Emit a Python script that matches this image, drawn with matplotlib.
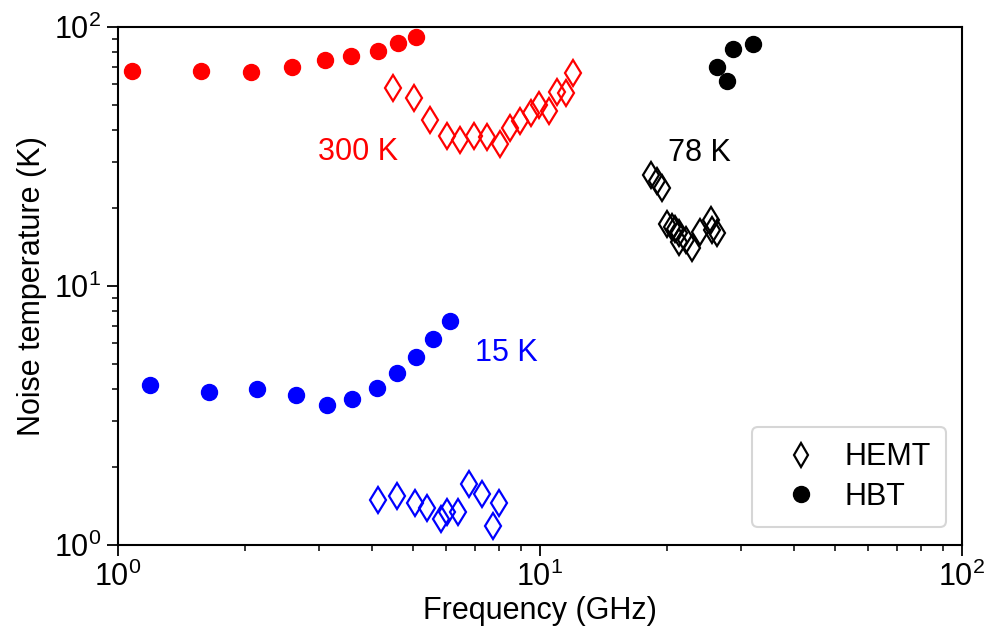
import matplotlib
matplotlib.use("Agg")
import matplotlib.pyplot as plt
from matplotlib.lines import Line2D

plt.rcParams['font.family'] = ['Liberation Sans', 'DejaVu Sans']

# 300 K
hbt_300_f = [1.08, 1.57, 2.07, 2.58, 3.10, 3.57, 4.14, 4.61, 5.09]
hbt_300_t = [67.6, 67.8, 66.8, 69.9, 74.6, 77.3, 80.8, 86.7, 91.5]
hemt_300_f = [4.48, 5.02, 5.49, 6.02, 6.47, 6.98, 7.49, 8.04, 8.49, 8.97, 9.52, 9.93, 10.49, 10.97, 11.5, 11.96]
hemt_300_t = [58.3, 53.3, 43.7, 37.8, 36.5, 38.0, 37.6, 35.2, 40.6, 43.4, 46.4, 49.9, 47.5, 56.0, 55.5, 66.3]

# 78 K
hbt_78_f = [26.2, 27.7, 28.7, 31.9]
hbt_78_t = [69.9, 61.7, 82.0, 85.8]
hemt_78_f = [18.3, 18.97, 19.5, 19.96, 20.5, 20.9, 21.3, 21.4, 22.2, 22.9, 23.9, 25.4, 25.5, 26.3]
hemt_78_t = [26.8, 25.5, 24.0, 17.3, 16.9, 16.6, 16.0, 14.8, 15.1, 14.0, 16.2, 18.0, 16.4, 16.0]

# 15 K
hbt_15_f = [1.19, 1.64, 2.13, 2.64, 3.12, 3.59, 4.11, 4.57, 5.07, 5.57, 6.12]
hbt_15_t = [4.14, 3.89, 3.99, 3.78, 3.46, 3.66, 4.03, 4.60, 5.31, 6.26, 7.35]
hemt_15_f = [4.12, 4.58, 5.06, 5.39, 5.82, 6.03, 6.40, 6.80, 7.27, 7.73, 8.0]
hemt_15_t = [1.49, 1.54, 1.45, 1.39, 1.26, 1.34, 1.34, 1.72, 1.57, 1.18, 1.45]

labels = ["300 K", "78 K", "15 K"]
label_pos = [(2.98, 32.9), (20.1, 32.6), (7.02, 5.51)]
colors = ["red", "black", "blue"]

FS = 22

fig = plt.figure(figsize=(9.87, 6.32), dpi=100)
ax = fig.add_axes([0.1196, 0.1377, 0.8551, 0.8196])
ax.set_xscale('log')
ax.set_yscale('log')
ax.set_xlim(1, 100)
ax.set_ylim(1, 100)

ms_c = 11.5
ms_d = 13
mew = 1.6
series = [
    (hbt_300_f, hbt_300_t, hemt_300_f, hemt_300_t, 'red'),
    (hbt_78_f, hbt_78_t, hemt_78_f, hemt_78_t, 'black'),
    (hbt_15_f, hbt_15_t, hemt_15_f, hemt_15_t, 'blue'),
]
for bf, bt, hf, ht, c in series:
    ax.plot(bf, bt, 'o', color=c, ms=ms_c, mec=c, lw=0)
    ax.plot(hf, ht, 'd', color=c, ms=ms_d, mfc='none', mec=c, mew=mew, lw=0)

for lab, (x, y), c in zip(labels, label_pos, colors):
    ax.text(x, y, lab, color=c, fontsize=FS, ha='left', va='center')

for s in ax.spines.values():
    s.set_linewidth(1.5)
ax.tick_params(which='major', direction='out', length=8, width=1.3, labelsize=FS,
               top=False, right=False, pad=4)
ax.tick_params(which='minor', direction='out', length=4.5, width=1.1,
               top=False, right=False)
ax.set_xlabel('Frequency (GHz)', fontsize=FS, labelpad=2)
ax.set_ylabel('Noise temperature (K)', fontsize=FS, labelpad=5)

handles = [
    Line2D([], [], marker='d', ls='none', color='black', mfc='none', mew=mew, ms=12),
    Line2D([], [], marker='o', ls='none', color='black', ms=ms_c),
]
leg = ax.legend(handles, ['HEMT', 'HBT'], loc='lower right', fontsize=FS,
                frameon=True, fancybox=True, borderpad=0.5, handletextpad=0.32,
                labelspacing=0.3, handlelength=2.2, borderaxespad=0,
                bbox_to_anchor=(0.981, 0.035))
leg.get_frame().set_edgecolor('#cccccc')
leg.get_frame().set_linewidth(1.5)

fig.savefig('out.png', dpi=100)
